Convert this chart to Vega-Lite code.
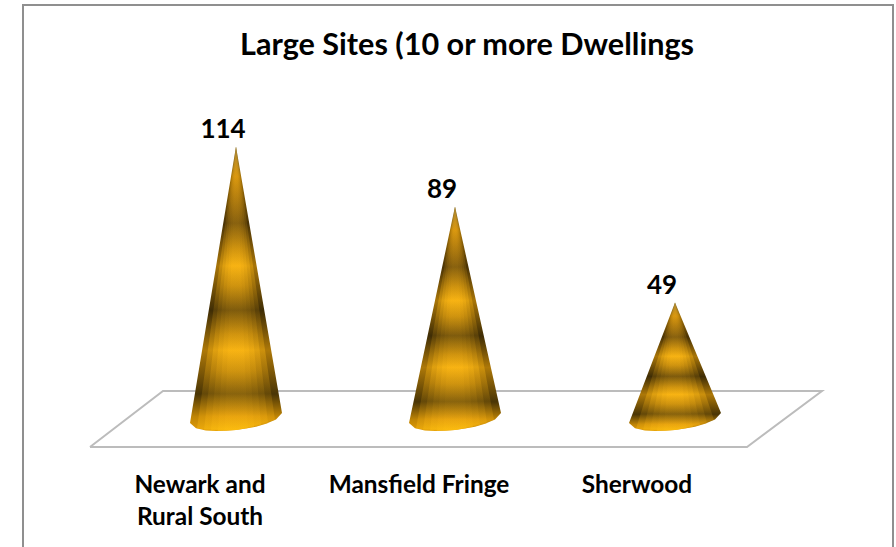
{"$schema":"https://vega.github.io/schema/vega-lite/v6.json","width":896,"height":547,"padding":0,"autosize":"none","background":"white","view":{"stroke":null},
"title":{"text":"Large Sites (10 or more Dwellings","anchor":"middle","frame":"group","orient":"top","offset":-60,"dy":26,"dx":19,"baseline":"alphabetic","font":"Lato","fontWeight":"bold","fontSize":30.6,"color":"#000000"},
"datasets":{
"frame":[{"o":1,"x":23,"v":-52.9},{"o":2,"x":23,"v":172.9},{"o":3,"x":893,"v":172.9},{"o":4,"x":893,"v":-52.9}],
"floor":[{"o":1,"x":90,"v":-11.25},{"o":2,"x":163,"v":12.08},{"o":3,"x":822,"v":12.08},{"o":4,"x":747,"v":-11.25},{"o":5,"x":90,"v":-11.25}],
"bars":[{"region":"Newark and\nRural South","cx":236,"labelx":200,"value":114},{"region":"Mansfield Fringe","cx":455,"labelx":419,"value":89},{"region":"Sherwood","cx":675,"labelx":637,"value":49}],
"cones":[
{"p":"a0","x":190,"t":-1.25,"b":-1.25},{"p":"a0","x":196,"t":13.78,"b":-3.46},{"p":"a0","x":206,"t":38.83,"b":-4.33},{"p":"a0","x":216,"t":63.89,"b":-4.58},{"p":"a0","x":226,"t":88.94,"b":-4.5},{"p":"a0","x":236,"t":114,"b":-4.17},{"p":"a0","x":246,"t":89.85,"b":-3.58},{"p":"a0","x":256,"t":65.7,"b":-2.75},{"p":"a0","x":266,"t":41.55,"b":-1.58},{"p":"a0","x":276,"t":17.41,"b":0.21},{"p":"a0","x":282,"t":2.92,"b":2.92},
{"p":"b0","x":409,"t":-1.25,"b":-1.25},{"p":"b0","x":415,"t":10.52,"b":-3.46},{"p":"b0","x":425,"t":30.14,"b":-4.33},{"p":"b0","x":435,"t":49.76,"b":-4.58},{"p":"b0","x":445,"t":69.38,"b":-4.5},{"p":"b0","x":455,"t":89,"b":-4.17},{"p":"b0","x":465,"t":70.29,"b":-3.58},{"p":"b0","x":475,"t":51.57,"b":-2.75},{"p":"b0","x":485,"t":32.86,"b":-1.58},{"p":"b0","x":495,"t":14.15,"b":0.21},{"p":"b0","x":501,"t":2.92,"b":2.92},
{"p":"c0","x":629,"t":-1.25,"b":-1.25},{"p":"c0","x":635,"t":5.3,"b":-3.46},{"p":"c0","x":645,"t":16.23,"b":-4.33},{"p":"c0","x":655,"t":27.15,"b":-4.58},{"p":"c0","x":665,"t":38.08,"b":-4.5},{"p":"c0","x":675,"t":49,"b":-4.17},{"p":"c0","x":685,"t":38.98,"b":-3.58},{"p":"c0","x":695,"t":28.96,"b":-2.75},{"p":"c0","x":705,"t":18.95,"b":-1.58},{"p":"c0","x":715,"t":8.93,"b":0.21},{"p":"c0","x":721,"t":2.92,"b":2.92}
],
"inner":[
{"p":"a1","x":197,"t":-3.6,"b":-3.6},{"p":"a1","x":236,"t":114,"b":-4.17},{"p":"a1","x":275,"t":0,"b":0},
{"p":"a2","x":204,"t":-4.25,"b":-4.25},{"p":"a2","x":236,"t":114,"b":-4.17},{"p":"a2","x":268,"t":-1.3,"b":-1.3},
{"p":"a3","x":211,"t":-4.5,"b":-4.5},{"p":"a3","x":236,"t":114,"b":-4.17},{"p":"a3","x":261,"t":-2.1,"b":-2.1},
{"p":"a4","x":218,"t":-4.55,"b":-4.55},{"p":"a4","x":236,"t":114,"b":-4.17},{"p":"a4","x":254,"t":-2.95,"b":-2.95},
{"p":"a5","x":224.5,"t":-4.5,"b":-4.5},{"p":"a5","x":236,"t":114,"b":-4.17},{"p":"a5","x":247.5,"t":-3.45,"b":-3.45},
{"p":"b1","x":416,"t":-3.6,"b":-3.6},{"p":"b1","x":455,"t":89,"b":-4.17},{"p":"b1","x":494,"t":0,"b":0},
{"p":"b2","x":423,"t":-4.25,"b":-4.25},{"p":"b2","x":455,"t":89,"b":-4.17},{"p":"b2","x":487,"t":-1.3,"b":-1.3},
{"p":"b3","x":430,"t":-4.5,"b":-4.5},{"p":"b3","x":455,"t":89,"b":-4.17},{"p":"b3","x":480,"t":-2.1,"b":-2.1},
{"p":"b4","x":437,"t":-4.55,"b":-4.55},{"p":"b4","x":455,"t":89,"b":-4.17},{"p":"b4","x":473,"t":-2.95,"b":-2.95},
{"p":"b5","x":443.5,"t":-4.5,"b":-4.5},{"p":"b5","x":455,"t":89,"b":-4.17},{"p":"b5","x":466.5,"t":-3.45,"b":-3.45},
{"p":"c1","x":636,"t":-3.6,"b":-3.6},{"p":"c1","x":675,"t":49,"b":-4.17},{"p":"c1","x":714,"t":0,"b":0},
{"p":"c2","x":643,"t":-4.25,"b":-4.25},{"p":"c2","x":675,"t":49,"b":-4.17},{"p":"c2","x":707,"t":-1.3,"b":-1.3},
{"p":"c3","x":650,"t":-4.5,"b":-4.5},{"p":"c3","x":675,"t":49,"b":-4.17},{"p":"c3","x":700,"t":-2.1,"b":-2.1},
{"p":"c4","x":657,"t":-4.55,"b":-4.55},{"p":"c4","x":675,"t":49,"b":-4.17},{"p":"c4","x":693,"t":-2.95,"b":-2.95},
{"p":"c5","x":663.5,"t":-4.5,"b":-4.5},{"p":"c5","x":675,"t":49,"b":-4.17},{"p":"c5","x":686.5,"t":-3.45,"b":-3.45}
]},
"layer":[
{"data":{"name":"frame"},"mark":{"type":"line","stroke":"#8f8f8f","strokeWidth":2,"clip":true},"encoding":{"order":{"field":"o"},"x":{"field":"x","type":"quantitative","scale":{"domain":[0,896],"nice":false,"zero":false},"axis":null},"y":{"field":"v","type":"quantitative","scale":{"domain":[-52.9,175],"nice":false,"zero":false},"axis":null}}},
{"data":{"name":"floor"},"mark":{"type":"line","stroke":"#bcbcbc","strokeWidth":2},"encoding":{"order":{"field":"o"},"x":{"field":"x","type":"quantitative","axis":null},"y":{"field":"v","type":"quantitative","axis":null}}},
{"data":{"name":"cones"},"mark":{"type":"area","orient":"vertical","color":{"gradient":"linear","x1":0,"y1":0,"x2":0,"y2":1,"stops":[{"offset":0,"color":"#7a6a3a"},{"offset":0.106,"color":"#a87508"},{"offset":0.27,"color":"#4a3305"},{"offset":0.42,"color":"#a87508"},{"offset":0.576,"color":"#3f2d05"},{"offset":0.717,"color":"#ad7808"},{"offset":0.87,"color":"#4a3505"},{"offset":0.95,"color":"#c08505"},{"offset":1,"color":"#e09c08"}]}},"encoding":{"detail":{"field":"p"},"x":{"field":"x","type":"quantitative","axis":null},"y":{"field":"t","type":"quantitative","axis":null},"y2":{"field":"b"}}},
{"data":{"name":"inner"},"mark":{"type":"area","orient":"vertical","opacity":0.38,"color":{"gradient":"linear","x1":0,"y1":0,"x2":0,"y2":1,"stops":[{"offset":0,"color":"#b08a30"},{"offset":0.106,"color":"#e09c10"},{"offset":0.27,"color":"#8f6610"},{"offset":0.36,"color":"#d89a10"},{"offset":0.42,"color":"#ffb914"},{"offset":0.49,"color":"#d89a10"},{"offset":0.576,"color":"#85600e"},{"offset":0.66,"color":"#d89a10"},{"offset":0.717,"color":"#ffb914"},{"offset":0.79,"color":"#d89a10"},{"offset":0.87,"color":"#8f680e"},{"offset":0.95,"color":"#eea810"},{"offset":1,"color":"#ffc010"}]}},"encoding":{"detail":{"field":"p"},"x":{"field":"x","type":"quantitative","axis":null},"y":{"field":"t","type":"quantitative","axis":null},"y2":{"field":"b"}}},
{"data":{"name":"bars"},"mark":{"type":"text","font":"Lato","fontWeight":"bold","fontSize":26,"color":"#000000","dx":-13,"dy":-8,"baseline":"alphabetic","align":"center"},"encoding":{"x":{"field":"cx","type":"quantitative","axis":null},"y":{"field":"value","type":"quantitative","axis":null},"text":{"field":"value","type":"quantitative"}}},
{"data":{"name":"bars"},"mark":{"type":"text","font":"Lato","fontWeight":"bold","fontSize":24.4,"color":"#000000","lineBreak":"\n","lineHeight":32,"baseline":"alphabetic","align":"center"},"encoding":{"x":{"field":"labelx","type":"quantitative","axis":null},"y":{"datum":-30.4,"type":"quantitative","axis":null},"text":{"field":"region","type":"nominal"}}}
]}
